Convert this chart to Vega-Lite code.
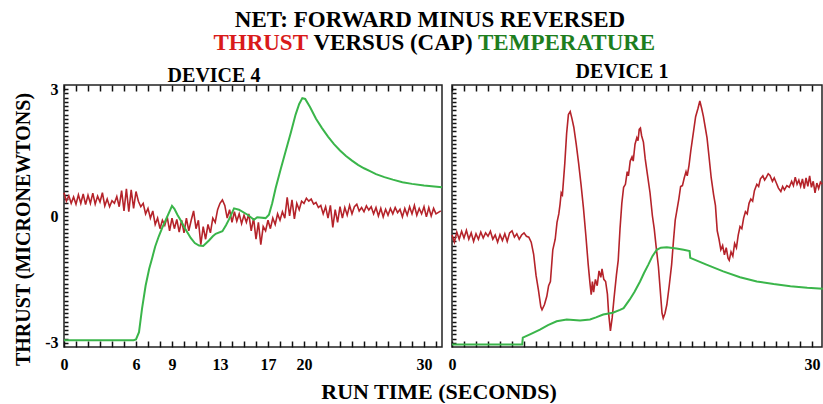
{
  "$schema": "https://vega.github.io/schema/vega-lite/v6.json",
  "padding": {"left": 12, "top": 8, "right": 0, "bottom": 0},
  "background": "white",
  "spacing": 6,
  "config": {
    "view": {"stroke": null},
    "font": "Liberation Serif",
    "axis": {"labelFont": "Liberation Serif", "labelFontWeight": "bold", "labelFontSize": 16, "labelColor": "black", "titleFont": "Liberation Serif", "titleFontWeight": "bold", "titleColor": "black", "tickColor": "black", "tickWidth": 1.5, "ticks": true, "domain": false, "grid": false, "labelFlush": false, "labelOverlap": false, "labelBound": false},
    "title": {"font": "Liberation Serif", "fontWeight": "bold", "color": "black"},
    "text": {"font": "Liberation Serif", "fontWeight": "bold"}
  },
  "datasets": {
    "d4_thrust": [
      {"t":0,"v":0.55},{"t":0.2,"v":0.35},{"t":0.4,"v":0.48},{"t":0.6,"v":0.3},{"t":0.8,"v":0.45},{"t":1.0,"v":0.28},{"t":1.2,"v":0.5},{"t":1.4,"v":0.3},{"t":1.6,"v":0.52},{"t":1.8,"v":0.27},
      {"t":2.0,"v":0.49},{"t":2.2,"v":0.3},{"t":2.4,"v":0.54},{"t":2.6,"v":0.28},{"t":2.8,"v":0.47},{"t":3.0,"v":0.33},{"t":3.2,"v":0.55},{"t":3.4,"v":0.24},{"t":3.6,"v":0.4},{"t":3.8,"v":0.22},
      {"t":4.0,"v":0.36},{"t":4.2,"v":0.3},{"t":4.4,"v":0.46},{"t":4.6,"v":0.22},{"t":4.8,"v":0.6},{"t":5.0,"v":0.12},{"t":5.2,"v":0.64},{"t":5.4,"v":0.1},{"t":5.6,"v":0.62},{"t":5.8,"v":0.18},
      {"t":6.0,"v":0.58},{"t":6.2,"v":0.35},{"t":6.4,"v":0.22},{"t":6.6,"v":0.3},{"t":6.8,"v":0.05},{"t":7.0,"v":0.18},{"t":7.2,"v":-0.05},{"t":7.4,"v":0.12},{"t":7.6,"v":-0.2},{"t":7.8,"v":-0.05},
      {"t":8.0,"v":-0.3},{"t":8.2,"v":-0.1},{"t":8.4,"v":-0.22},{"t":8.6,"v":-0.02},{"t":8.8,"v":-0.35},{"t":9.0,"v":-0.05},{"t":9.2,"v":-0.3},{"t":9.4,"v":-0.08},{"t":9.6,"v":-0.38},{"t":9.8,"v":-0.1},
      {"t":10.0,"v":-0.4},{"t":10.2,"v":-0.05},{"t":10.4,"v":-0.35},{"t":10.6,"v":-0.1},{"t":10.8,"v":0.12},{"t":11.0,"v":-0.3},{"t":11.2,"v":-0.1},{"t":11.4,"v":-0.68},{"t":11.6,"v":-0.25},{"t":11.8,"v":-0.55},
      {"t":12.0,"v":-0.2},{"t":12.2,"v":-0.4},{"t":12.4,"v":-0.05},{"t":12.6,"v":-0.15},{"t":12.8,"v":0.15},{"t":13.0,"v":0.3},{"t":13.2,"v":0.38},{"t":13.4,"v":0.25},{"t":13.6,"v":-0.05},{"t":13.8,"v":0.15},
      {"t":14.0,"v":-0.15},{"t":14.2,"v":0.1},{"t":14.4,"v":-0.12},{"t":14.6,"v":0.05},{"t":14.8,"v":-0.18},{"t":15.0,"v":0.02},{"t":15.2,"v":-0.15},{"t":15.4,"v":0.05},{"t":15.6,"v":-0.35},{"t":15.8,"v":-0.05},
      {"t":16.0,"v":-0.55},{"t":16.2,"v":-0.15},{"t":16.4,"v":-0.68},{"t":16.6,"v":-0.25},{"t":16.8,"v":-0.35},{"t":17.0,"v":-0.1},{"t":17.2,"v":-0.3},{"t":17.4,"v":-0.05},{"t":17.6,"v":-0.2},{"t":17.8,"v":0.05},
      {"t":18.0,"v":-0.1},{"t":18.2,"v":0.1},{"t":18.4,"v":-0.05},{"t":18.6,"v":0.44},{"t":18.8,"v":0.0},{"t":19.0,"v":0.38},{"t":19.2,"v":-0.07},{"t":19.4,"v":0.3},{"t":19.6,"v":0.15},{"t":19.8,"v":0.35},
      {"t":20.0,"v":0.3},{"t":20.2,"v":0.42},{"t":20.4,"v":0.35},{"t":20.6,"v":0.4},{"t":20.8,"v":0.28},{"t":21.0,"v":0.32},{"t":21.2,"v":0.2},{"t":21.4,"v":0.25},{"t":21.6,"v":0.05},{"t":21.8,"v":0.22},
      {"t":22.0,"v":-0.05},{"t":22.2,"v":0.25},{"t":22.4,"v":-0.27},{"t":22.6,"v":0.15},{"t":22.8,"v":-0.15},{"t":23.0,"v":0.22},{"t":23.2,"v":-0.05},{"t":23.4,"v":0.2},{"t":23.6,"v":0.02},{"t":23.8,"v":0.25},
      {"t":24.0,"v":0.05},{"t":24.2,"v":0.22},{"t":24.4,"v":0.28},{"t":24.6,"v":0.12},{"t":24.8,"v":0.2},{"t":25.0,"v":0.1},{"t":25.2,"v":0.24},{"t":25.4,"v":0.14},{"t":25.6,"v":0.22},{"t":25.8,"v":0.05},
      {"t":26.0,"v":0.2},{"t":26.2,"v":0.0},{"t":26.4,"v":0.18},{"t":26.6,"v":-0.02},{"t":26.8,"v":0.16},{"t":27.0,"v":0.02},{"t":27.2,"v":0.18},{"t":27.4,"v":0.05},{"t":27.6,"v":0.2},{"t":27.8,"v":0.08},
      {"t":28.0,"v":0.16},{"t":28.2,"v":-0.02},{"t":28.4,"v":0.18},{"t":28.6,"v":0.02},{"t":28.8,"v":0.22},{"t":29.0,"v":0.05},{"t":29.2,"v":0.25},{"t":29.4,"v":0.02},{"t":29.6,"v":0.18},{"t":29.8,"v":0.05},
      {"t":30.0,"v":0.22},{"t":30.2,"v":-0.02},{"t":30.4,"v":0.2},{"t":30.6,"v":0.0},{"t":30.8,"v":0.18},{"t":31.0,"v":0.05},{"t":31.4,"v":0.12}
    ],
    "d4_temp": [
      {"t":0,"v":-2.94},{"t":5.8,"v":-2.94},{"t":6.0,"v":-2.92},{"t":6.25,"v":-2.75},{"t":6.5,"v":-2.2},{"t":6.8,"v":-1.65},{"t":7.1,"v":-1.25},{"t":7.36,"v":-0.98},{"t":7.6,"v":-0.72},{"t":7.9,"v":-0.48},
      {"t":8.2,"v":-0.27},{"t":8.47,"v":-0.1},{"t":8.75,"v":0.08},{"t":9.0,"v":0.24},{"t":9.2,"v":0.17},{"t":9.45,"v":0.03},{"t":9.72,"v":-0.1},{"t":10.1,"v":-0.3},{"t":10.56,"v":-0.52},{"t":10.9,"v":-0.64},
      {"t":11.25,"v":-0.7},{"t":11.6,"v":-0.71},{"t":12.08,"v":-0.58},{"t":12.4,"v":-0.48},{"t":12.64,"v":-0.42},{"t":13.2,"v":-0.36},{"t":13.5,"v":-0.22},{"t":13.75,"v":-0.08},{"t":14.17,"v":0.18},{"t":14.58,"v":0.15},
      {"t":15.3,"v":0.03},{"t":15.83,"v":-0.09},{"t":16.1,"v":-0.03},{"t":16.8,"v":-0.05},{"t":17.08,"v":0.03},{"t":17.35,"v":0.3},{"t":17.64,"v":0.66},{"t":18.05,"v":1.1},{"t":18.47,"v":1.53},{"t":18.9,"v":1.97},
      {"t":19.3,"v":2.4},{"t":19.6,"v":2.65},{"t":19.86,"v":2.79},{"t":20.1,"v":2.77},{"t":20.5,"v":2.58},{"t":21.0,"v":2.3},{"t":21.5,"v":2.08},{"t":22.0,"v":1.88},{"t":22.5,"v":1.7},{"t":23.0,"v":1.55},
      {"t":23.5,"v":1.42},{"t":24.0,"v":1.31},{"t":24.5,"v":1.21},{"t":25.0,"v":1.13},{"t":25.5,"v":1.06},{"t":26.0,"v":0.99},{"t":26.7,"v":0.92},{"t":27.4,"v":0.86},{"t":28.2,"v":0.8},{"t":29.0,"v":0.76},
      {"t":30.0,"v":0.72},{"t":31.5,"v":0.68}
    ],
    "d1_thrust": [
      {"t":0,"v":-0.45},{"t":0.2,"v":-0.62},{"t":0.4,"v":-0.38},{"t":0.6,"v":-0.55},{"t":0.8,"v":-0.36},{"t":1.0,"v":-0.52},{"t":1.2,"v":-0.34},{"t":1.4,"v":-0.55},{"t":1.6,"v":-0.4},{"t":1.8,"v":-0.6},
      {"t":2.0,"v":-0.42},{"t":2.2,"v":-0.55},{"t":2.4,"v":-0.38},{"t":2.6,"v":-0.52},{"t":2.8,"v":-0.4},{"t":3.0,"v":-0.48},{"t":3.2,"v":-0.36},{"t":3.4,"v":-0.55},{"t":3.6,"v":-0.45},{"t":3.8,"v":-0.62},
      {"t":4.0,"v":-0.44},{"t":4.2,"v":-0.58},{"t":4.4,"v":-0.42},{"t":4.6,"v":-0.6},{"t":4.8,"v":-0.4},{"t":5.0,"v":-0.35},{"t":5.2,"v":-0.5},{"t":5.4,"v":-0.42},{"t":5.6,"v":-0.55},{"t":5.8,"v":-0.45},
      {"t":6.0,"v":-0.4},{"t":6.2,"v":-0.48},{"t":6.4,"v":-0.5},{"t":6.6,"v":-0.62},{"t":6.8,"v":-0.9},{"t":7.0,"v":-1.4},{"t":7.2,"v":-1.75},{"t":7.4,"v":-2.15},{"t":7.5,"v":-2.22},{"t":7.7,"v":-2.1},
      {"t":7.9,"v":-1.9},{"t":8.05,"v":-1.65},{"t":8.2,"v":-1.55},{"t":8.4,"v":-0.8},{"t":8.6,"v":-0.55},{"t":8.75,"v":-0.15},{"t":8.9,"v":0.05},{"t":9.0,"v":0.27},{"t":9.1,"v":0.55},{"t":9.2,"v":0.5},
      {"t":9.4,"v":1.25},{"t":9.55,"v":1.95},{"t":9.7,"v":2.4},{"t":9.85,"v":2.47},{"t":10.0,"v":2.3},{"t":10.15,"v":2.1},{"t":10.35,"v":1.7},{"t":10.55,"v":1.25},{"t":10.75,"v":0.75},{"t":10.95,"v":0.2},
      {"t":11.15,"v":-0.45},{"t":11.35,"v":-1.15},{"t":11.5,"v":-1.6},{"t":11.6,"v":-1.86},{"t":11.7,"v":-1.55},{"t":11.8,"v":-1.8},{"t":11.95,"v":-1.5},{"t":12.1,"v":-1.65},{"t":12.25,"v":-1.3},{"t":12.4,"v":-1.45},
      {"t":12.5,"v":-1.25},{"t":12.65,"v":-1.5},{"t":12.8,"v":-1.55},{"t":12.95,"v":-1.85},{"t":13.05,"v":-2.3},{"t":13.2,"v":-2.72},{"t":13.35,"v":-2.4},{"t":13.5,"v":-1.95},{"t":13.7,"v":-1.4},{"t":13.85,"v":-1.05},
      {"t":14.0,"v":-0.3},{"t":14.15,"v":0.3},{"t":14.3,"v":0.68},{"t":14.45,"v":0.75},{"t":14.6,"v":1.05},{"t":14.7,"v":0.95},{"t":14.85,"v":1.3},{"t":15.0,"v":1.4},{"t":15.1,"v":1.3},{"t":15.25,"v":1.7},
      {"t":15.4,"v":1.85},{"t":15.5,"v":1.78},{"t":15.6,"v":2.05},{"t":15.7,"v":2.08},{"t":15.8,"v":1.9},{"t":15.95,"v":1.75},{"t":16.1,"v":1.35},{"t":16.3,"v":0.95},{"t":16.5,"v":0.55},{"t":16.7,"v":0.0},
      {"t":16.85,"v":-0.3},{"t":17.0,"v":-0.7},{"t":17.2,"v":-1.2},{"t":17.35,"v":-1.75},{"t":17.5,"v":-2.3},{"t":17.6,"v":-2.42},{"t":17.75,"v":-2.3},{"t":17.9,"v":-2.1},{"t":18.1,"v":-1.65},{"t":18.3,"v":-1.15},
      {"t":18.45,"v":-0.6},{"t":18.6,"v":-0.1},{"t":18.75,"v":0.15},{"t":18.9,"v":0.4},{"t":19.05,"v":0.7},{"t":19.2,"v":0.72},{"t":19.35,"v":0.9},{"t":19.5,"v":1.05},{"t":19.6,"v":0.95},{"t":19.75,"v":1.2},
      {"t":19.9,"v":1.55},{"t":20.0,"v":1.75},{"t":20.15,"v":2.05},{"t":20.3,"v":2.35},{"t":20.5,"v":2.55},{"t":20.65,"v":2.72},{"t":20.8,"v":2.55},{"t":20.95,"v":2.35},{"t":21.1,"v":2.1},{"t":21.25,"v":1.85},
      {"t":21.4,"v":1.45},{"t":21.6,"v":0.9},{"t":21.8,"v":0.5},{"t":21.95,"v":0.25},{"t":22.1,"v":-0.35},{"t":22.25,"v":-0.55},{"t":22.4,"v":-0.8},{"t":22.55,"v":-0.7},{"t":22.7,"v":-0.92},{"t":22.85,"v":-0.75},
      {"t":23.0,"v":-1.0},{"t":23.1,"v":-1.05},{"t":23.25,"v":-0.85},{"t":23.4,"v":-0.95},{"t":23.55,"v":-0.65},{"t":23.7,"v":-0.75},{"t":23.85,"v":-0.45},{"t":24.0,"v":-0.25},{"t":24.15,"v":-0.3},{"t":24.3,"v":-0.05},
      {"t":24.45,"v":0.1},{"t":24.6,"v":0.05},{"t":24.75,"v":0.3},{"t":24.9,"v":0.4},{"t":25.05,"v":0.35},{"t":25.2,"v":0.6},{"t":25.4,"v":0.75},{"t":25.55,"v":0.7},{"t":25.7,"v":0.88},{"t":25.9,"v":0.95},
      {"t":26.05,"v":0.85},{"t":26.2,"v":0.92},{"t":26.35,"v":1.0},{"t":26.5,"v":0.96},{"t":26.7,"v":0.82},{"t":26.85,"v":0.9},{"t":27.0,"v":0.8},{"t":27.2,"v":0.66},{"t":27.4,"v":0.58},{"t":27.55,"v":0.7},
      {"t":27.7,"v":0.62},{"t":27.9,"v":0.72},{"t":28.1,"v":0.68},{"t":28.3,"v":0.82},{"t":28.45,"v":0.72},{"t":28.6,"v":0.92},{"t":28.75,"v":0.75},{"t":28.9,"v":0.85},{"t":29.05,"v":0.7},{"t":29.2,"v":0.88},
      {"t":29.35,"v":0.65},{"t":29.5,"v":0.9},{"t":29.65,"v":0.7},{"t":29.8,"v":0.95},{"t":29.95,"v":0.68},{"t":30.1,"v":0.82},{"t":30.25,"v":0.55},{"t":30.4,"v":0.78},{"t":30.55,"v":0.65},{"t":30.7,"v":0.8},
      {"t":30.85,"v":0.75}
    ],
    "d1_temp": [
      {"t":0,"v":-3.04},{"t":5.85,"v":-3.04},{"t":5.9,"v":-2.88},{"t":6.5,"v":-2.8},{"t":7.33,"v":-2.69},{"t":8.0,"v":-2.58},{"t":8.72,"v":-2.49},{"t":9.56,"v":-2.45},{"t":10.67,"v":-2.47},{"t":11.5,"v":-2.45},
      {"t":12.0,"v":-2.4},{"t":12.6,"v":-2.33},{"t":13.4,"v":-2.29},{"t":14.0,"v":-2.22},{"t":14.3,"v":-2.18},{"t":14.8,"v":-1.98},{"t":15.2,"v":-1.8},{"t":15.67,"v":-1.55},{"t":16.0,"v":-1.35},{"t":16.36,"v":-1.15},
      {"t":16.7,"v":-0.95},{"t":17.06,"v":-0.8},{"t":17.4,"v":-0.75},{"t":17.9,"v":-0.74},{"t":18.7,"v":-0.77},{"t":19.3,"v":-0.8},{"t":19.8,"v":-0.83},{"t":19.85,"v":-0.99},{"t":21.2,"v":-1.15},{"t":22.6,"v":-1.31},
      {"t":24.0,"v":-1.45},{"t":25.4,"v":-1.55},{"t":26.8,"v":-1.61},{"t":28.2,"v":-1.66},{"t":29.6,"v":-1.7},{"t":30.9,"v":-1.72}
    ],
    "header": [
      {"line":1,"part":"head","text":"NET: FORWARD MINUS REVERSED"},
      {"line":2,"part":"thrust","text":"THRUST"},
      {"line":2,"part":"versus","text":"VERSUS (CAP)"},
      {"line":2,"part":"temp","text":"TEMPERATURE"}
    ],
    "footer": [{"text":"RUN TIME (SECONDS)"}]
  },
  "vconcat": [
    {
      "width": 744,
      "height": 46,
      "view": {"stroke": null, "fill": null},
      "data": {"name": "header"},
      "encoding": {
        "y": {"field": "line", "type": "ordinal", "axis": null, "scale": {"type": "point", "padding": 0.5}},
        "text": {"field": "text"}
      },
      "layer": [
        {"transform": [{"filter": "datum.part == 'head'"}], "mark": {"type": "text", "fontSize": 23, "color": "black", "align": "center", "dx": -6}},
        {"transform": [{"filter": "datum.part == 'thrust'"}], "mark": {"type": "text", "fontSize": 23, "color": "#d91a1a", "align": "right", "dx": -128}},
        {"transform": [{"filter": "datum.part == 'versus'"}], "mark": {"type": "text", "fontSize": 23, "color": "black", "align": "center", "dx": -43}},
        {"transform": [{"filter": "datum.part == 'temp'"}], "mark": {"type": "text", "fontSize": 23, "color": "#1e7e1e", "align": "left", "dx": 42}}
      ]
    },
    {
      "spacing": 0,
      "hconcat": [
        {
          "width": 378,
          "height": 262,
          "view": {"stroke": "#222222", "strokeWidth": 1.5, "fill": null},
          "title": {"text": "DEVICE 4", "fontSize": 20, "baseline": "bottom", "offset": -25, "dx": -39},
          "resolve": {"axis": {"x": "independent", "y": "independent"}},
          "layer": [
            {
              "data": {"name": "d4_thrust"},
              "mark": {"type": "line", "color": "#b5232a", "strokeWidth": 1.6},
              "encoding": {
                "x": {"field": "t", "type": "quantitative", "scale": {"domain": [0, 31.5], "nice": false, "zero": false},
                  "axis": {"orient": "bottom", "values": [0,1,2,3,4,5,6,7,8,9,10,11,12,13,14,15,16,17,18,19,20,21,22,23,24,25,26,27,28,29,30,31], "offset": -6, "ticks": true, "tickSize": 6, "tickColor": "#111111", "tickWidth": 1.5, "labelPadding": 9, "labelOverlap": false, "labelBound": false, "labelFlush": false,
                    "labelExpr": "indexof([0,6,9,13,17,20,30], datum.value) >= 0 ? datum.label : ''", "title": null}},
                "y": {"field": "v", "type": "quantitative", "scale": {"domain": [-3.1, 3.1], "nice": false, "zero": false},
                  "axis": {"orient": "left", "values": [-3,-2.9,-2.8,-2.7,-2.6,-2.5,-2.4,-2.3,-2.2,-2.1,-2,-1.9,-1.8,-1.7,-1.6,-1.5,-1.4,-1.3,-1.2,-1.1,-1,-0.9,-0.8,-0.7,-0.6,-0.5,-0.4,-0.3,-0.2,-0.1,0,0.1,0.2,0.3,0.4,0.5,0.6,0.7,0.8,0.9,1,1.1,1.2,1.3,1.4,1.5,1.6,1.7,1.8,1.9,2,2.1,2.2,2.3,2.4,2.5,2.6,2.7,2.8,2.9,3],
                    "offset": -4, "ticks": true, "tickSize": 4, "tickColor": "#111111", "tickWidth": 1.5, "labelPadding": 6, "labelOverlap": false, "labelBound": false, "labelFlush": false,
                    "labelExpr": "datum.value == 3 ? '3' : datum.value == 0 ? '0' : datum.value == -3 ? '-3' : ''",
                    "title": "THRUST (MICRONEWTONS)", "titleFontSize": 20, "titlePadding": 11, "titleY": 144}}
              }
            },
            {
              "data": {"name": "d4_temp"},
              "mark": {"type": "line", "color": "#3ab54a", "strokeWidth": 2},
              "encoding": {
                "x": {"field": "t", "type": "quantitative", "axis": null},
                "y": {"field": "v", "type": "quantitative", "axis": null}
              }
            },
            {
              "data": {"name": "d4_temp"},
              "mark": {"type": "line", "strokeOpacity": 0},
              "encoding": {
                "x": {"field": "t", "type": "quantitative",
                  "axis": {"orient": "top", "values": [0,1,2,3,4,5,6,7,8,9,10,11,12,13,14,15,16,17,18,19,20,21,22,23,24,25,26,27,28,29,30,31], "offset": -6, "ticks": true, "tickSize": 6, "tickColor": "#111111", "tickWidth": 1.5, "labels": false, "title": null}},
                "y": {"field": "v", "type": "quantitative", "axis": null}
              }
            }
          ]
        },
        {
          "width": 370,
          "height": 262,
          "view": {"stroke": "#222222", "strokeWidth": 1.5, "fill": null},
          "title": {"text": "DEVICE 1", "fontSize": 20, "baseline": "bottom", "offset": -18, "dx": -15},
          "resolve": {"axis": {"x": "independent", "y": "independent"}},
          "layer": [
            {
              "data": {"name": "d1_thrust"},
              "mark": {"type": "line", "color": "#b5232a", "strokeWidth": 1.6},
              "encoding": {
                "x": {"field": "t", "type": "quantitative", "scale": {"domain": [0, 30.83], "nice": false, "zero": false},
                  "axis": {"orient": "bottom", "values": [0,1,2,3,4,5,6,7,8,9,10,11,12,13,14,15,16,17,18,19,20,21,22,23,24,25,26,27,28,29,30], "offset": -6, "ticks": true, "tickSize": 6, "tickColor": "#111111", "tickWidth": 1.5, "labelPadding": 9, "labelOverlap": false, "labelBound": false, "labelFlush": false,
                    "labelExpr": "datum.value == 0 || datum.value == 30 ? datum.label : ''", "title": null}},
                "y": {"field": "v", "type": "quantitative", "scale": {"domain": [-3.1, 3.1], "nice": false, "zero": false},
                  "axis": {"orient": "left", "values": [-3,-2.9,-2.8,-2.7,-2.6,-2.5,-2.4,-2.3,-2.2,-2.1,-2,-1.9,-1.8,-1.7,-1.6,-1.5,-1.4,-1.3,-1.2,-1.1,-1,-0.9,-0.8,-0.7,-0.6,-0.5,-0.4,-0.3,-0.2,-0.1,0,0.1,0.2,0.3,0.4,0.5,0.6,0.7,0.8,0.9,1,1.1,1.2,1.3,1.4,1.5,1.6,1.7,1.8,1.9,2,2.1,2.2,2.3,2.4,2.5,2.6,2.7,2.8,2.9,3],
                    "offset": -4, "ticks": true, "tickSize": 4, "tickColor": "#111111", "tickWidth": 1.5, "labels": false, "title": null}}
              }
            },
            {
              "data": {"name": "d1_temp"},
              "mark": {"type": "line", "color": "#3ab54a", "strokeWidth": 2},
              "encoding": {
                "x": {"field": "t", "type": "quantitative", "axis": null},
                "y": {"field": "v", "type": "quantitative", "axis": null}
              }
            },
            {
              "data": {"name": "d1_temp"},
              "mark": {"type": "line", "strokeOpacity": 0},
              "encoding": {
                "x": {"field": "t", "type": "quantitative",
                  "axis": {"orient": "top", "values": [0,1,2,3,4,5,6,7,8,9,10,11,12,13,14,15,16,17,18,19,20,21,22,23,24,25,26,27,28,29,30], "offset": -6, "ticks": true, "tickSize": 6, "tickColor": "#111111", "tickWidth": 1.5, "labels": false, "title": null}},
                "y": {"field": "v", "type": "quantitative", "axis": null}
              }
            }
          ]
        }
      ]
    },
    {
      "width": 750,
      "height": 24,
      "view": {"stroke": null, "fill": null},
      "data": {"name": "footer"},
      "mark": {"type": "text", "fontSize": 22, "color": "black", "dy": 1},
      "encoding": {"text": {"field": "text"}}
    }
  ]
}
